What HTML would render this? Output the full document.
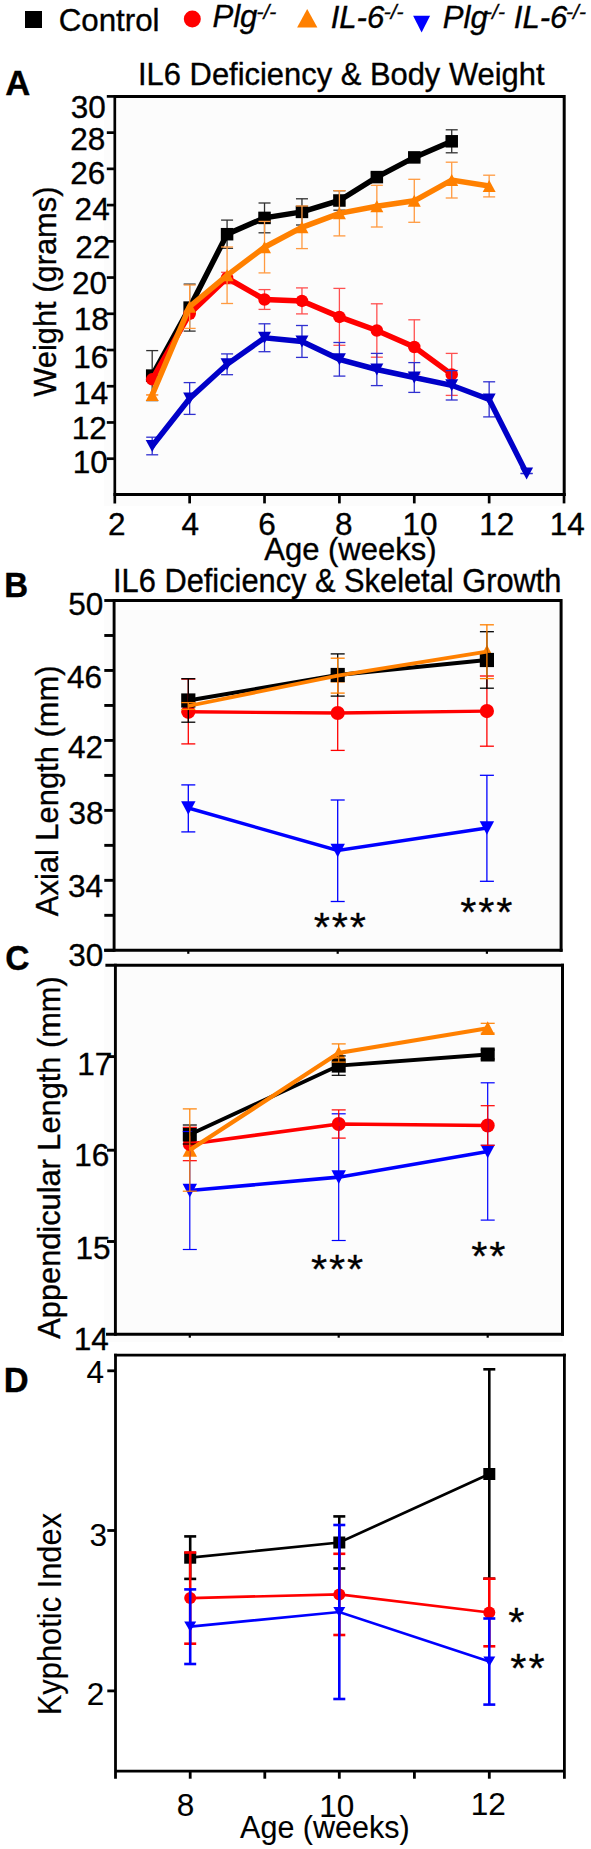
<!DOCTYPE html><html><head><meta charset="utf-8"><style>html,body{margin:0;padding:0;background:#fff;width:591px;height:1849px;overflow:hidden}text{font-family:"Liberation Sans",sans-serif}</style></head><body><svg width="591" height="1849" viewBox="0 0 591 1849" style="display:block;font-family:'Liberation Sans',sans-serif">
<defs><pattern id="dots" width="3" height="3" patternUnits="userSpaceOnUse"><rect width="3" height="3" fill="#fff"/><rect x="0" y="0" width="1" height="1" fill="#f1f1f1"/><rect x="2" y="1" width="1" height="1" fill="#f1f1f1"/><rect x="1" y="2" width="1" height="1" fill="#f1f1f1"/></pattern></defs>
<rect width="591" height="1849" fill="#fff"/>
<rect x="25" y="11" width="17" height="17" fill="#000"/>
<text transform="translate(58.63,30.90) scale(1,1.0220)" font-size="31.31" font-weight="normal" font-style="normal" fill="#000" stroke="#000" stroke-width="0.35">Control</text>
<circle cx="192.3" cy="19.1" r="8.5" fill="#ff0000"/>
<text transform="translate(212.47,26.80)" font-size="31.10" font-weight="normal" font-style="italic" fill="#000" stroke="#000" stroke-width="0.35">Plg</text>
<text transform="translate(256.50,18.60) scale(1,0.9524)" font-size="21.00" font-weight="normal" font-style="italic" fill="#000" stroke="#000" stroke-width="0.35">-/-</text>
<polygon points="307.2,8.9 317.4,27.4 297.1,27.4" fill="#ff8000"/>
<text transform="translate(330.66,27.90)" font-size="31.10" font-weight="normal" font-style="italic" fill="#000" stroke="#000" stroke-width="0.35">IL-6</text>
<text transform="translate(383.70,19.00) scale(1,0.9524)" font-size="21.00" font-weight="normal" font-style="italic" fill="#000" stroke="#000" stroke-width="0.35">-/-</text>
<polygon points="413.1,15.7 430.1,15.7 421.6,32.5" fill="#0000ff"/>
<text transform="translate(442.87,28.30)" font-size="31.10" font-weight="normal" font-style="italic" fill="#000" stroke="#000" stroke-width="0.35">Plg</text>
<text transform="translate(485.10,19.30) scale(1,0.9524)" font-size="21.00" font-weight="normal" font-style="italic" fill="#000" stroke="#000" stroke-width="0.35">-/-</text>
<text transform="translate(513.76,28.30)" font-size="31.10" font-weight="normal" font-style="italic" fill="#000" stroke="#000" stroke-width="0.35">IL-6</text>
<text transform="translate(566.10,19.30) scale(1,0.9524)" font-size="21.00" font-weight="normal" font-style="italic" fill="#000" stroke="#000" stroke-width="0.35">-/-</text>
<text transform="translate(5.23,94.90) scale(1,1.0086)" font-size="34.70" font-weight="bold" font-style="normal" fill="#000" stroke="#000" stroke-width="0.35">A</text>
<text transform="translate(4.17,596.80) scale(1,1.0424)" font-size="33.00" font-weight="bold" font-style="normal" fill="#000" stroke="#000" stroke-width="0.35">B</text>
<text transform="translate(5.26,970.00) scale(1,1.0208)" font-size="33.60" font-weight="bold" font-style="normal" fill="#000" stroke="#000" stroke-width="0.35">C</text>
<text transform="translate(3.87,1391.50) scale(1,0.9971)" font-size="34.50" font-weight="bold" font-style="normal" fill="#000" stroke="#000" stroke-width="0.35">D</text>
<rect x="104" y="96.4" width="460.20000000000005" height="409.6" fill="#fcfcfc"/>
<text transform="translate(138.04,85.20) scale(1,1.0416)" font-size="30.92" font-weight="normal" font-style="normal" fill="#000" stroke="#000" stroke-width="0.35">IL6 Deficiency &amp; Body Weight</text>
<line x1="152.20" y1="350.60" x2="152.20" y2="400.60" stroke="#303030" stroke-width="1.3" stroke-linecap="butt"/>
<line x1="146.20" y1="350.60" x2="158.20" y2="350.60" stroke="#303030" stroke-width="1.3" stroke-linecap="butt"/>
<line x1="146.20" y1="400.60" x2="158.20" y2="400.60" stroke="#303030" stroke-width="1.3" stroke-linecap="butt"/>
<line x1="189.64" y1="284.10" x2="189.64" y2="331.10" stroke="#303030" stroke-width="1.3" stroke-linecap="butt"/>
<line x1="183.64" y1="284.10" x2="195.64" y2="284.10" stroke="#303030" stroke-width="1.3" stroke-linecap="butt"/>
<line x1="183.64" y1="331.10" x2="195.64" y2="331.10" stroke="#303030" stroke-width="1.3" stroke-linecap="butt"/>
<line x1="227.08" y1="220.10" x2="227.08" y2="248.30" stroke="#303030" stroke-width="1.3" stroke-linecap="butt"/>
<line x1="221.08" y1="220.10" x2="233.08" y2="220.10" stroke="#303030" stroke-width="1.3" stroke-linecap="butt"/>
<line x1="221.08" y1="248.30" x2="233.08" y2="248.30" stroke="#303030" stroke-width="1.3" stroke-linecap="butt"/>
<line x1="264.52" y1="203.00" x2="264.52" y2="232.80" stroke="#303030" stroke-width="1.3" stroke-linecap="butt"/>
<line x1="258.52" y1="203.00" x2="270.52" y2="203.00" stroke="#303030" stroke-width="1.3" stroke-linecap="butt"/>
<line x1="258.52" y1="232.80" x2="270.52" y2="232.80" stroke="#303030" stroke-width="1.3" stroke-linecap="butt"/>
<line x1="301.96" y1="198.80" x2="301.96" y2="225.00" stroke="#303030" stroke-width="1.3" stroke-linecap="butt"/>
<line x1="295.96" y1="198.80" x2="307.96" y2="198.80" stroke="#303030" stroke-width="1.3" stroke-linecap="butt"/>
<line x1="295.96" y1="225.00" x2="307.96" y2="225.00" stroke="#303030" stroke-width="1.3" stroke-linecap="butt"/>
<line x1="339.40" y1="190.70" x2="339.40" y2="210.20" stroke="#303030" stroke-width="1.3" stroke-linecap="butt"/>
<line x1="333.40" y1="190.70" x2="345.40" y2="190.70" stroke="#303030" stroke-width="1.3" stroke-linecap="butt"/>
<line x1="333.40" y1="210.20" x2="345.40" y2="210.20" stroke="#303030" stroke-width="1.3" stroke-linecap="butt"/>
<line x1="376.84" y1="173.00" x2="376.84" y2="181.00" stroke="#303030" stroke-width="1.3" stroke-linecap="butt"/>
<line x1="370.84" y1="173.00" x2="382.84" y2="173.00" stroke="#303030" stroke-width="1.3" stroke-linecap="butt"/>
<line x1="370.84" y1="181.00" x2="382.84" y2="181.00" stroke="#303030" stroke-width="1.3" stroke-linecap="butt"/>
<line x1="414.28" y1="153.00" x2="414.28" y2="161.00" stroke="#303030" stroke-width="1.3" stroke-linecap="butt"/>
<line x1="408.28" y1="153.00" x2="420.28" y2="153.00" stroke="#303030" stroke-width="1.3" stroke-linecap="butt"/>
<line x1="408.28" y1="161.00" x2="420.28" y2="161.00" stroke="#303030" stroke-width="1.3" stroke-linecap="butt"/>
<line x1="451.72" y1="129.80" x2="451.72" y2="152.80" stroke="#303030" stroke-width="1.3" stroke-linecap="butt"/>
<line x1="445.72" y1="129.80" x2="457.72" y2="129.80" stroke="#303030" stroke-width="1.3" stroke-linecap="butt"/>
<line x1="445.72" y1="152.80" x2="457.72" y2="152.80" stroke="#303030" stroke-width="1.3" stroke-linecap="butt"/>
<polyline points="152.20,375.60 189.64,307.60 227.08,234.20 264.52,217.90 301.96,211.90 339.40,200.50 376.84,177.10 414.28,157.40 451.72,141.30" fill="none" stroke="#000000" stroke-width="5.5" stroke-linejoin="miter" stroke-miterlimit="3"/>
<rect x="145.95" y="369.35" width="12.50" height="12.50" fill="#000000"/>
<rect x="183.39" y="301.35" width="12.50" height="12.50" fill="#000000"/>
<rect x="220.83" y="227.95" width="12.50" height="12.50" fill="#000000"/>
<rect x="258.27" y="211.65" width="12.50" height="12.50" fill="#000000"/>
<rect x="295.71" y="205.65" width="12.50" height="12.50" fill="#000000"/>
<rect x="333.15" y="194.25" width="12.50" height="12.50" fill="#000000"/>
<rect x="370.59" y="170.85" width="12.50" height="12.50" fill="#000000"/>
<rect x="408.03" y="151.15" width="12.50" height="12.50" fill="#000000"/>
<rect x="445.47" y="135.05" width="12.50" height="12.50" fill="#000000"/>
<line x1="152.20" y1="379.30" x2="152.20" y2="379.30" stroke="#ff5050" stroke-width="1.3" stroke-linecap="butt"/>
<line x1="146.20" y1="379.30" x2="158.20" y2="379.30" stroke="#ff5050" stroke-width="1.3" stroke-linecap="butt"/>
<line x1="146.20" y1="379.30" x2="158.20" y2="379.30" stroke="#ff5050" stroke-width="1.3" stroke-linecap="butt"/>
<line x1="189.64" y1="313.80" x2="189.64" y2="313.80" stroke="#ff5050" stroke-width="1.3" stroke-linecap="butt"/>
<line x1="183.64" y1="313.80" x2="195.64" y2="313.80" stroke="#ff5050" stroke-width="1.3" stroke-linecap="butt"/>
<line x1="183.64" y1="313.80" x2="195.64" y2="313.80" stroke="#ff5050" stroke-width="1.3" stroke-linecap="butt"/>
<line x1="227.08" y1="272.30" x2="227.08" y2="283.70" stroke="#ff5050" stroke-width="1.3" stroke-linecap="butt"/>
<line x1="221.08" y1="272.30" x2="233.08" y2="272.30" stroke="#ff5050" stroke-width="1.3" stroke-linecap="butt"/>
<line x1="221.08" y1="283.70" x2="233.08" y2="283.70" stroke="#ff5050" stroke-width="1.3" stroke-linecap="butt"/>
<line x1="264.52" y1="289.60" x2="264.52" y2="309.40" stroke="#ff5050" stroke-width="1.3" stroke-linecap="butt"/>
<line x1="258.52" y1="289.60" x2="270.52" y2="289.60" stroke="#ff5050" stroke-width="1.3" stroke-linecap="butt"/>
<line x1="258.52" y1="309.40" x2="270.52" y2="309.40" stroke="#ff5050" stroke-width="1.3" stroke-linecap="butt"/>
<line x1="301.96" y1="287.90" x2="301.96" y2="313.90" stroke="#ff5050" stroke-width="1.3" stroke-linecap="butt"/>
<line x1="295.96" y1="287.90" x2="307.96" y2="287.90" stroke="#ff5050" stroke-width="1.3" stroke-linecap="butt"/>
<line x1="295.96" y1="313.90" x2="307.96" y2="313.90" stroke="#ff5050" stroke-width="1.3" stroke-linecap="butt"/>
<line x1="339.40" y1="288.40" x2="339.40" y2="345.30" stroke="#ff5050" stroke-width="1.3" stroke-linecap="butt"/>
<line x1="333.40" y1="288.40" x2="345.40" y2="288.40" stroke="#ff5050" stroke-width="1.3" stroke-linecap="butt"/>
<line x1="333.40" y1="345.30" x2="345.40" y2="345.30" stroke="#ff5050" stroke-width="1.3" stroke-linecap="butt"/>
<line x1="376.84" y1="303.80" x2="376.84" y2="357.20" stroke="#ff5050" stroke-width="1.3" stroke-linecap="butt"/>
<line x1="370.84" y1="303.80" x2="382.84" y2="303.80" stroke="#ff5050" stroke-width="1.3" stroke-linecap="butt"/>
<line x1="370.84" y1="357.20" x2="382.84" y2="357.20" stroke="#ff5050" stroke-width="1.3" stroke-linecap="butt"/>
<line x1="414.28" y1="319.80" x2="414.28" y2="374.20" stroke="#ff5050" stroke-width="1.3" stroke-linecap="butt"/>
<line x1="408.28" y1="319.80" x2="420.28" y2="319.80" stroke="#ff5050" stroke-width="1.3" stroke-linecap="butt"/>
<line x1="408.28" y1="374.20" x2="420.28" y2="374.20" stroke="#ff5050" stroke-width="1.3" stroke-linecap="butt"/>
<line x1="451.72" y1="353.40" x2="451.72" y2="395.40" stroke="#ff5050" stroke-width="1.3" stroke-linecap="butt"/>
<line x1="445.72" y1="353.40" x2="457.72" y2="353.40" stroke="#ff5050" stroke-width="1.3" stroke-linecap="butt"/>
<line x1="445.72" y1="395.40" x2="457.72" y2="395.40" stroke="#ff5050" stroke-width="1.3" stroke-linecap="butt"/>
<polyline points="152.20,379.30 189.64,313.80 227.08,278.00 264.52,299.50 301.96,300.90 339.40,316.90 376.84,330.50 414.28,347.00 451.72,374.40" fill="none" stroke="#ff0000" stroke-width="5.5" stroke-linejoin="miter" stroke-miterlimit="3"/>
<circle cx="152.20" cy="379.30" r="6.25" fill="#ff0000"/>
<circle cx="189.64" cy="313.80" r="6.25" fill="#ff0000"/>
<circle cx="227.08" cy="278.00" r="6.25" fill="#ff0000"/>
<circle cx="264.52" cy="299.50" r="6.25" fill="#ff0000"/>
<circle cx="301.96" cy="300.90" r="6.25" fill="#ff0000"/>
<circle cx="339.40" cy="316.90" r="6.25" fill="#ff0000"/>
<circle cx="376.84" cy="330.50" r="6.25" fill="#ff0000"/>
<circle cx="414.28" cy="347.00" r="6.25" fill="#ff0000"/>
<circle cx="451.72" cy="374.40" r="6.25" fill="#ff0000"/>
<line x1="152.20" y1="394.90" x2="152.20" y2="394.90" stroke="#ff9a40" stroke-width="1.3" stroke-linecap="butt"/>
<line x1="146.20" y1="394.90" x2="158.20" y2="394.90" stroke="#ff9a40" stroke-width="1.3" stroke-linecap="butt"/>
<line x1="146.20" y1="394.90" x2="158.20" y2="394.90" stroke="#ff9a40" stroke-width="1.3" stroke-linecap="butt"/>
<line x1="189.64" y1="285.00" x2="189.64" y2="328.40" stroke="#ff9a40" stroke-width="1.3" stroke-linecap="butt"/>
<line x1="183.64" y1="285.00" x2="195.64" y2="285.00" stroke="#ff9a40" stroke-width="1.3" stroke-linecap="butt"/>
<line x1="183.64" y1="328.40" x2="195.64" y2="328.40" stroke="#ff9a40" stroke-width="1.3" stroke-linecap="butt"/>
<line x1="227.08" y1="247.00" x2="227.08" y2="303.50" stroke="#ff9a40" stroke-width="1.3" stroke-linecap="butt"/>
<line x1="221.08" y1="247.00" x2="233.08" y2="247.00" stroke="#ff9a40" stroke-width="1.3" stroke-linecap="butt"/>
<line x1="221.08" y1="303.50" x2="233.08" y2="303.50" stroke="#ff9a40" stroke-width="1.3" stroke-linecap="butt"/>
<line x1="264.52" y1="221.40" x2="264.52" y2="272.90" stroke="#ff9a40" stroke-width="1.3" stroke-linecap="butt"/>
<line x1="258.52" y1="221.40" x2="270.52" y2="221.40" stroke="#ff9a40" stroke-width="1.3" stroke-linecap="butt"/>
<line x1="258.52" y1="272.90" x2="270.52" y2="272.90" stroke="#ff9a40" stroke-width="1.3" stroke-linecap="butt"/>
<line x1="301.96" y1="206.00" x2="301.96" y2="248.60" stroke="#ff9a40" stroke-width="1.3" stroke-linecap="butt"/>
<line x1="295.96" y1="206.00" x2="307.96" y2="206.00" stroke="#ff9a40" stroke-width="1.3" stroke-linecap="butt"/>
<line x1="295.96" y1="248.60" x2="307.96" y2="248.60" stroke="#ff9a40" stroke-width="1.3" stroke-linecap="butt"/>
<line x1="339.40" y1="190.70" x2="339.40" y2="235.90" stroke="#ff9a40" stroke-width="1.3" stroke-linecap="butt"/>
<line x1="333.40" y1="190.70" x2="345.40" y2="190.70" stroke="#ff9a40" stroke-width="1.3" stroke-linecap="butt"/>
<line x1="333.40" y1="235.90" x2="345.40" y2="235.90" stroke="#ff9a40" stroke-width="1.3" stroke-linecap="butt"/>
<line x1="376.84" y1="185.30" x2="376.84" y2="227.00" stroke="#ff9a40" stroke-width="1.3" stroke-linecap="butt"/>
<line x1="370.84" y1="185.30" x2="382.84" y2="185.30" stroke="#ff9a40" stroke-width="1.3" stroke-linecap="butt"/>
<line x1="370.84" y1="227.00" x2="382.84" y2="227.00" stroke="#ff9a40" stroke-width="1.3" stroke-linecap="butt"/>
<line x1="414.28" y1="179.30" x2="414.28" y2="222.30" stroke="#ff9a40" stroke-width="1.3" stroke-linecap="butt"/>
<line x1="408.28" y1="179.30" x2="420.28" y2="179.30" stroke="#ff9a40" stroke-width="1.3" stroke-linecap="butt"/>
<line x1="408.28" y1="222.30" x2="420.28" y2="222.30" stroke="#ff9a40" stroke-width="1.3" stroke-linecap="butt"/>
<line x1="451.72" y1="162.20" x2="451.72" y2="198.00" stroke="#ff9a40" stroke-width="1.3" stroke-linecap="butt"/>
<line x1="445.72" y1="162.20" x2="457.72" y2="162.20" stroke="#ff9a40" stroke-width="1.3" stroke-linecap="butt"/>
<line x1="445.72" y1="198.00" x2="457.72" y2="198.00" stroke="#ff9a40" stroke-width="1.3" stroke-linecap="butt"/>
<line x1="489.16" y1="175.20" x2="489.16" y2="196.90" stroke="#ff9a40" stroke-width="1.3" stroke-linecap="butt"/>
<line x1="483.16" y1="175.20" x2="495.16" y2="175.20" stroke="#ff9a40" stroke-width="1.3" stroke-linecap="butt"/>
<line x1="483.16" y1="196.90" x2="495.16" y2="196.90" stroke="#ff9a40" stroke-width="1.3" stroke-linecap="butt"/>
<polyline points="152.20,394.90 189.64,306.70 227.08,275.30 264.52,247.20 301.96,227.30 339.40,213.30 376.84,206.20 414.28,200.80 451.72,180.10 489.16,186.00" fill="none" stroke="#ff8000" stroke-width="5.5" stroke-linejoin="miter" stroke-miterlimit="3"/>
<polygon points="152.20,388.92 158.70,400.88 145.70,400.88" fill="#ff8000"/>
<polygon points="189.64,300.72 196.14,312.68 183.14,312.68" fill="#ff8000"/>
<polygon points="227.08,269.32 233.58,281.28 220.58,281.28" fill="#ff8000"/>
<polygon points="264.52,241.22 271.02,253.18 258.02,253.18" fill="#ff8000"/>
<polygon points="301.96,221.32 308.46,233.28 295.46,233.28" fill="#ff8000"/>
<polygon points="339.40,207.32 345.90,219.28 332.90,219.28" fill="#ff8000"/>
<polygon points="376.84,200.22 383.34,212.18 370.34,212.18" fill="#ff8000"/>
<polygon points="414.28,194.82 420.78,206.78 407.78,206.78" fill="#ff8000"/>
<polygon points="451.72,174.12 458.22,186.08 445.22,186.08" fill="#ff8000"/>
<polygon points="489.16,180.02 495.66,191.98 482.66,191.98" fill="#ff8000"/>
<line x1="152.20" y1="437.20" x2="152.20" y2="454.80" stroke="#3030d0" stroke-width="1.3" stroke-linecap="butt"/>
<line x1="146.20" y1="437.20" x2="158.20" y2="437.20" stroke="#3030d0" stroke-width="1.3" stroke-linecap="butt"/>
<line x1="146.20" y1="454.80" x2="158.20" y2="454.80" stroke="#3030d0" stroke-width="1.3" stroke-linecap="butt"/>
<line x1="189.64" y1="382.60" x2="189.64" y2="414.40" stroke="#3030d0" stroke-width="1.3" stroke-linecap="butt"/>
<line x1="183.64" y1="382.60" x2="195.64" y2="382.60" stroke="#3030d0" stroke-width="1.3" stroke-linecap="butt"/>
<line x1="183.64" y1="414.40" x2="195.64" y2="414.40" stroke="#3030d0" stroke-width="1.3" stroke-linecap="butt"/>
<line x1="227.08" y1="353.90" x2="227.08" y2="374.70" stroke="#3030d0" stroke-width="1.3" stroke-linecap="butt"/>
<line x1="221.08" y1="353.90" x2="233.08" y2="353.90" stroke="#3030d0" stroke-width="1.3" stroke-linecap="butt"/>
<line x1="221.08" y1="374.70" x2="233.08" y2="374.70" stroke="#3030d0" stroke-width="1.3" stroke-linecap="butt"/>
<line x1="264.52" y1="323.80" x2="264.52" y2="351.70" stroke="#3030d0" stroke-width="1.3" stroke-linecap="butt"/>
<line x1="258.52" y1="323.80" x2="270.52" y2="323.80" stroke="#3030d0" stroke-width="1.3" stroke-linecap="butt"/>
<line x1="258.52" y1="351.70" x2="270.52" y2="351.70" stroke="#3030d0" stroke-width="1.3" stroke-linecap="butt"/>
<line x1="301.96" y1="325.50" x2="301.96" y2="357.40" stroke="#3030d0" stroke-width="1.3" stroke-linecap="butt"/>
<line x1="295.96" y1="325.50" x2="307.96" y2="325.50" stroke="#3030d0" stroke-width="1.3" stroke-linecap="butt"/>
<line x1="295.96" y1="357.40" x2="307.96" y2="357.40" stroke="#3030d0" stroke-width="1.3" stroke-linecap="butt"/>
<line x1="339.40" y1="342.50" x2="339.40" y2="376.10" stroke="#3030d0" stroke-width="1.3" stroke-linecap="butt"/>
<line x1="333.40" y1="342.50" x2="345.40" y2="342.50" stroke="#3030d0" stroke-width="1.3" stroke-linecap="butt"/>
<line x1="333.40" y1="376.10" x2="345.40" y2="376.10" stroke="#3030d0" stroke-width="1.3" stroke-linecap="butt"/>
<line x1="376.84" y1="353.40" x2="376.84" y2="385.60" stroke="#3030d0" stroke-width="1.3" stroke-linecap="butt"/>
<line x1="370.84" y1="353.40" x2="382.84" y2="353.40" stroke="#3030d0" stroke-width="1.3" stroke-linecap="butt"/>
<line x1="370.84" y1="385.60" x2="382.84" y2="385.60" stroke="#3030d0" stroke-width="1.3" stroke-linecap="butt"/>
<line x1="414.28" y1="362.60" x2="414.28" y2="392.40" stroke="#3030d0" stroke-width="1.3" stroke-linecap="butt"/>
<line x1="408.28" y1="362.60" x2="420.28" y2="362.60" stroke="#3030d0" stroke-width="1.3" stroke-linecap="butt"/>
<line x1="408.28" y1="392.40" x2="420.28" y2="392.40" stroke="#3030d0" stroke-width="1.3" stroke-linecap="butt"/>
<line x1="451.72" y1="370.60" x2="451.72" y2="400.00" stroke="#3030d0" stroke-width="1.3" stroke-linecap="butt"/>
<line x1="445.72" y1="370.60" x2="457.72" y2="370.60" stroke="#3030d0" stroke-width="1.3" stroke-linecap="butt"/>
<line x1="445.72" y1="400.00" x2="457.72" y2="400.00" stroke="#3030d0" stroke-width="1.3" stroke-linecap="butt"/>
<line x1="489.16" y1="381.80" x2="489.16" y2="416.90" stroke="#3030d0" stroke-width="1.3" stroke-linecap="butt"/>
<line x1="483.16" y1="381.80" x2="495.16" y2="381.80" stroke="#3030d0" stroke-width="1.3" stroke-linecap="butt"/>
<line x1="483.16" y1="416.90" x2="495.16" y2="416.90" stroke="#3030d0" stroke-width="1.3" stroke-linecap="butt"/>
<line x1="526.60" y1="473.50" x2="526.60" y2="473.50" stroke="#3030d0" stroke-width="1.3" stroke-linecap="butt"/>
<line x1="520.60" y1="473.50" x2="532.60" y2="473.50" stroke="#3030d0" stroke-width="1.3" stroke-linecap="butt"/>
<line x1="520.60" y1="473.50" x2="532.60" y2="473.50" stroke="#3030d0" stroke-width="1.3" stroke-linecap="butt"/>
<polyline points="152.20,446.00 189.64,398.50 227.08,364.30 264.52,337.80 301.96,341.50 339.40,359.30 376.84,369.50 414.28,377.50 451.72,385.30 489.16,399.40 526.60,473.50" fill="none" stroke="#0000c8" stroke-width="5.5" stroke-linejoin="miter" stroke-miterlimit="3"/>
<polygon points="145.70,440.02 158.70,440.02 152.20,451.98" fill="#0000c8"/>
<polygon points="183.14,392.52 196.14,392.52 189.64,404.48" fill="#0000c8"/>
<polygon points="220.58,358.32 233.58,358.32 227.08,370.28" fill="#0000c8"/>
<polygon points="258.02,331.82 271.02,331.82 264.52,343.78" fill="#0000c8"/>
<polygon points="295.46,335.52 308.46,335.52 301.96,347.48" fill="#0000c8"/>
<polygon points="332.90,353.32 345.90,353.32 339.40,365.28" fill="#0000c8"/>
<polygon points="370.34,363.52 383.34,363.52 376.84,375.48" fill="#0000c8"/>
<polygon points="407.78,371.52 420.78,371.52 414.28,383.48" fill="#0000c8"/>
<polygon points="445.22,379.32 458.22,379.32 451.72,391.28" fill="#0000c8"/>
<polygon points="482.66,393.42 495.66,393.42 489.16,405.38" fill="#0000c8"/>
<polygon points="520.10,467.52 533.10,467.52 526.60,479.48" fill="#0000c8"/>
<line x1="114.80" y1="96.40" x2="564.20" y2="96.40" stroke="#000" stroke-width="3" stroke-linecap="butt"/>
<line x1="564.20" y1="94.90" x2="564.20" y2="495.90" stroke="#000" stroke-width="3" stroke-linecap="butt"/>
<line x1="114.80" y1="94.90" x2="114.80" y2="503.40" stroke="#000" stroke-width="2.7" stroke-linecap="butt"/>
<line x1="113.45" y1="494.40" x2="565.70" y2="494.40" stroke="#000" stroke-width="3" stroke-linecap="butt"/>
<line x1="106.80" y1="458.70" x2="114.80" y2="458.70" stroke="#000" stroke-width="2.7" stroke-linecap="butt"/>
<line x1="106.80" y1="422.47" x2="114.80" y2="422.47" stroke="#000" stroke-width="2.7" stroke-linecap="butt"/>
<line x1="106.80" y1="386.24" x2="114.80" y2="386.24" stroke="#000" stroke-width="2.7" stroke-linecap="butt"/>
<line x1="106.80" y1="350.01" x2="114.80" y2="350.01" stroke="#000" stroke-width="2.7" stroke-linecap="butt"/>
<line x1="106.80" y1="313.78" x2="114.80" y2="313.78" stroke="#000" stroke-width="2.7" stroke-linecap="butt"/>
<line x1="106.80" y1="277.55" x2="114.80" y2="277.55" stroke="#000" stroke-width="2.7" stroke-linecap="butt"/>
<line x1="106.80" y1="241.32" x2="114.80" y2="241.32" stroke="#000" stroke-width="2.7" stroke-linecap="butt"/>
<line x1="106.80" y1="205.09" x2="114.80" y2="205.09" stroke="#000" stroke-width="2.7" stroke-linecap="butt"/>
<line x1="106.80" y1="168.86" x2="114.80" y2="168.86" stroke="#000" stroke-width="2.7" stroke-linecap="butt"/>
<line x1="106.80" y1="132.63" x2="114.80" y2="132.63" stroke="#000" stroke-width="2.7" stroke-linecap="butt"/>
<line x1="106.80" y1="96.40" x2="114.80" y2="96.40" stroke="#000" stroke-width="2.7" stroke-linecap="butt"/>
<line x1="189.64" y1="494.40" x2="189.64" y2="503.40" stroke="#000" stroke-width="2.7" stroke-linecap="butt"/>
<line x1="264.52" y1="494.40" x2="264.52" y2="503.40" stroke="#000" stroke-width="2.7" stroke-linecap="butt"/>
<line x1="339.40" y1="494.40" x2="339.40" y2="503.40" stroke="#000" stroke-width="2.7" stroke-linecap="butt"/>
<line x1="414.28" y1="494.40" x2="414.28" y2="503.40" stroke="#000" stroke-width="2.7" stroke-linecap="butt"/>
<line x1="489.16" y1="494.40" x2="489.16" y2="503.40" stroke="#000" stroke-width="2.7" stroke-linecap="butt"/>
<line x1="564.04" y1="494.40" x2="564.04" y2="503.40" stroke="#000" stroke-width="2.7" stroke-linecap="butt"/>
<text transform="translate(70.72,117.59)" font-size="31.50" font-weight="normal" font-style="normal" fill="#000" stroke="#000" stroke-width="0.35">30</text>
<text transform="translate(70.33,149.69)" font-size="31.50" font-weight="normal" font-style="normal" fill="#000" stroke="#000" stroke-width="0.35">28</text>
<text transform="translate(70.33,183.69)" font-size="31.50" font-weight="normal" font-style="normal" fill="#000" stroke="#000" stroke-width="0.35">26</text>
<text transform="translate(74.62,219.70)" font-size="31.50" font-weight="normal" font-style="normal" fill="#000" stroke="#000" stroke-width="0.35">24</text>
<text transform="translate(75.22,257.60)" font-size="31.50" font-weight="normal" font-style="normal" fill="#000" stroke="#000" stroke-width="0.35">22</text>
<text transform="translate(72.02,294.08)" font-size="31.50" font-weight="normal" font-style="normal" fill="#000" stroke="#000" stroke-width="0.35">20</text>
<text transform="translate(73.84,329.69)" font-size="31.50" font-weight="normal" font-style="normal" fill="#000" stroke="#000" stroke-width="0.35">18</text>
<text transform="translate(73.34,368.08)" font-size="31.50" font-weight="normal" font-style="normal" fill="#000" stroke="#000" stroke-width="0.35">16</text>
<text transform="translate(73.34,404.10)" font-size="31.50" font-weight="normal" font-style="normal" fill="#000" stroke="#000" stroke-width="0.35">14</text>
<text transform="translate(71.74,439.20)" font-size="31.50" font-weight="normal" font-style="normal" fill="#000" stroke="#000" stroke-width="0.35">12</text>
<text transform="translate(72.74,473.49)" font-size="31.50" font-weight="normal" font-style="normal" fill="#000" stroke="#000" stroke-width="0.35">10</text>
<text transform="translate(108.12,535.30)" font-size="31.50" font-weight="normal" font-style="normal" fill="#000" stroke="#000" stroke-width="0.35">2</text>
<text transform="translate(181.49,535.30)" font-size="31.50" font-weight="normal" font-style="normal" fill="#000" stroke="#000" stroke-width="0.35">4</text>
<text transform="translate(258.32,535.30)" font-size="31.50" font-weight="normal" font-style="normal" fill="#000" stroke="#000" stroke-width="0.35">6</text>
<text transform="translate(335.06,535.30)" font-size="31.50" font-weight="normal" font-style="normal" fill="#000" stroke="#000" stroke-width="0.35">8</text>
<text transform="translate(402.54,535.30)" font-size="31.50" font-weight="normal" font-style="normal" fill="#000" stroke="#000" stroke-width="0.35">10</text>
<text transform="translate(479.14,535.30)" font-size="31.50" font-weight="normal" font-style="normal" fill="#000" stroke="#000" stroke-width="0.35">12</text>
<text transform="translate(549.64,535.30)" font-size="31.50" font-weight="normal" font-style="normal" fill="#000" stroke="#000" stroke-width="0.35">14</text>
<text transform="translate(264.22,559.60) scale(1,0.9837)" font-size="31.01" font-weight="normal" font-style="normal" fill="#000" stroke="#000" stroke-width="0.35">Age (weeks)</text>
<text transform="translate(55.90,396.70) rotate(-90) scale(1,1.0366)" x="-0.15" font-size="30.87" fill="#000" stroke="#000" stroke-width="0.35">Weight (grams)</text>
<rect x="104" y="600.6" width="457.1" height="359.69999999999993" fill="#fcfcfc"/>
<text transform="translate(113.05,592.00) scale(1,1.0614)" font-size="30.81" font-weight="normal" font-style="normal" fill="#000" stroke="#000" stroke-width="0.35">IL6 Deficiency &amp; Skeletal Growth</text>
<polygon points="188.30,699.16 195.50,712.84 181.10,712.84" fill="#ff8000"/>
<polygon points="337.70,668.81 344.90,682.49 330.50,682.49" fill="#ff8000"/>
<polygon points="486.90,644.86 494.10,658.54 479.70,658.54" fill="#ff8000"/>
<circle cx="188.30" cy="711.80" r="7.10" fill="#ff0000"/>
<circle cx="337.70" cy="713.00" r="7.10" fill="#ff0000"/>
<circle cx="486.90" cy="711.10" r="7.10" fill="#ff0000"/>
<rect x="181.20" y="693.40" width="14.20" height="14.20" fill="#000000"/>
<rect x="330.60" y="667.90" width="14.20" height="14.20" fill="#000000"/>
<rect x="479.80" y="652.90" width="14.20" height="14.20" fill="#000000"/>
<polygon points="181.10,801.16 195.50,801.16 188.30,814.84" fill="#0000ff"/>
<polygon points="330.50,843.66 344.90,843.66 337.70,857.34" fill="#0000ff"/>
<polygon points="479.70,821.16 494.10,821.16 486.90,834.84" fill="#0000ff"/>
<line x1="188.30" y1="784.90" x2="188.30" y2="831.90" stroke="#0000ff" stroke-width="1.3" stroke-linecap="butt"/>
<line x1="181.30" y1="784.90" x2="195.30" y2="784.90" stroke="#0000ff" stroke-width="1.3" stroke-linecap="butt"/>
<line x1="181.30" y1="831.90" x2="195.30" y2="831.90" stroke="#0000ff" stroke-width="1.3" stroke-linecap="butt"/>
<line x1="337.70" y1="800.00" x2="337.70" y2="901.50" stroke="#0000ff" stroke-width="1.3" stroke-linecap="butt"/>
<line x1="330.70" y1="800.00" x2="344.70" y2="800.00" stroke="#0000ff" stroke-width="1.3" stroke-linecap="butt"/>
<line x1="330.70" y1="901.50" x2="344.70" y2="901.50" stroke="#0000ff" stroke-width="1.3" stroke-linecap="butt"/>
<line x1="486.90" y1="775.30" x2="486.90" y2="881.30" stroke="#0000ff" stroke-width="1.3" stroke-linecap="butt"/>
<line x1="479.90" y1="775.30" x2="493.90" y2="775.30" stroke="#0000ff" stroke-width="1.3" stroke-linecap="butt"/>
<line x1="479.90" y1="881.30" x2="493.90" y2="881.30" stroke="#0000ff" stroke-width="1.3" stroke-linecap="butt"/>
<polyline points="188.30,808.00 337.70,850.50 486.90,828.00" fill="none" stroke="#0000ff" stroke-width="3.4" stroke-linejoin="miter" stroke-miterlimit="3"/>
<line x1="188.30" y1="679.10" x2="188.30" y2="743.90" stroke="#ff0000" stroke-width="1.3" stroke-linecap="butt"/>
<line x1="181.30" y1="679.10" x2="195.30" y2="679.10" stroke="#ff0000" stroke-width="1.3" stroke-linecap="butt"/>
<line x1="181.30" y1="743.90" x2="195.30" y2="743.90" stroke="#ff0000" stroke-width="1.3" stroke-linecap="butt"/>
<line x1="337.70" y1="675.60" x2="337.70" y2="750.40" stroke="#ff0000" stroke-width="1.3" stroke-linecap="butt"/>
<line x1="330.70" y1="675.60" x2="344.70" y2="675.60" stroke="#ff0000" stroke-width="1.3" stroke-linecap="butt"/>
<line x1="330.70" y1="750.40" x2="344.70" y2="750.40" stroke="#ff0000" stroke-width="1.3" stroke-linecap="butt"/>
<line x1="486.90" y1="676.00" x2="486.90" y2="746.20" stroke="#ff0000" stroke-width="1.3" stroke-linecap="butt"/>
<line x1="479.90" y1="676.00" x2="493.90" y2="676.00" stroke="#ff0000" stroke-width="1.3" stroke-linecap="butt"/>
<line x1="479.90" y1="746.20" x2="493.90" y2="746.20" stroke="#ff0000" stroke-width="1.3" stroke-linecap="butt"/>
<polyline points="188.30,711.80 337.70,713.00 486.90,711.10" fill="none" stroke="#ff0000" stroke-width="3.4" stroke-linejoin="miter" stroke-miterlimit="3"/>
<line x1="188.30" y1="678.70" x2="188.30" y2="722.20" stroke="#000000" stroke-width="1.3" stroke-linecap="butt"/>
<line x1="181.30" y1="678.70" x2="195.30" y2="678.70" stroke="#000000" stroke-width="1.3" stroke-linecap="butt"/>
<line x1="181.30" y1="722.20" x2="195.30" y2="722.20" stroke="#000000" stroke-width="1.3" stroke-linecap="butt"/>
<line x1="337.70" y1="653.90" x2="337.70" y2="696.10" stroke="#000000" stroke-width="1.3" stroke-linecap="butt"/>
<line x1="330.70" y1="653.90" x2="344.70" y2="653.90" stroke="#000000" stroke-width="1.3" stroke-linecap="butt"/>
<line x1="330.70" y1="696.10" x2="344.70" y2="696.10" stroke="#000000" stroke-width="1.3" stroke-linecap="butt"/>
<line x1="486.90" y1="631.70" x2="486.90" y2="688.20" stroke="#000000" stroke-width="1.3" stroke-linecap="butt"/>
<line x1="479.90" y1="631.70" x2="493.90" y2="631.70" stroke="#000000" stroke-width="1.3" stroke-linecap="butt"/>
<line x1="479.90" y1="688.20" x2="493.90" y2="688.20" stroke="#000000" stroke-width="1.3" stroke-linecap="butt"/>
<polyline points="188.30,700.50 337.70,675.00 486.90,660.00" fill="none" stroke="#000000" stroke-width="4.0" stroke-linejoin="miter" stroke-miterlimit="3"/>
<line x1="188.30" y1="702.60" x2="188.30" y2="709.40" stroke="#ff8000" stroke-width="1.3" stroke-linecap="butt"/>
<line x1="181.30" y1="702.60" x2="195.30" y2="702.60" stroke="#ff8000" stroke-width="1.3" stroke-linecap="butt"/>
<line x1="181.30" y1="709.40" x2="195.30" y2="709.40" stroke="#ff8000" stroke-width="1.3" stroke-linecap="butt"/>
<line x1="337.70" y1="658.20" x2="337.70" y2="693.10" stroke="#ff8000" stroke-width="1.3" stroke-linecap="butt"/>
<line x1="330.70" y1="658.20" x2="344.70" y2="658.20" stroke="#ff8000" stroke-width="1.3" stroke-linecap="butt"/>
<line x1="330.70" y1="693.10" x2="344.70" y2="693.10" stroke="#ff8000" stroke-width="1.3" stroke-linecap="butt"/>
<line x1="486.90" y1="624.80" x2="486.90" y2="678.60" stroke="#ff8000" stroke-width="1.3" stroke-linecap="butt"/>
<line x1="479.90" y1="624.80" x2="493.90" y2="624.80" stroke="#ff8000" stroke-width="1.3" stroke-linecap="butt"/>
<line x1="479.90" y1="678.60" x2="493.90" y2="678.60" stroke="#ff8000" stroke-width="1.3" stroke-linecap="butt"/>
<polyline points="188.30,706.00 337.70,675.65 486.90,651.70" fill="none" stroke="#ff8000" stroke-width="3.8" stroke-linejoin="miter" stroke-miterlimit="3"/>
<line x1="114.10" y1="600.60" x2="561.10" y2="600.60" stroke="#000" stroke-width="3" stroke-linecap="butt"/>
<line x1="561.10" y1="599.10" x2="561.10" y2="951.80" stroke="#000" stroke-width="3" stroke-linecap="butt"/>
<line x1="114.10" y1="599.10" x2="114.10" y2="951.80" stroke="#000" stroke-width="2.9" stroke-linecap="butt"/>
<line x1="104.20" y1="950.30" x2="562.60" y2="950.30" stroke="#000" stroke-width="3" stroke-linecap="butt"/>
<line x1="104.30" y1="950.30" x2="114.10" y2="950.30" stroke="#000" stroke-width="2.9" stroke-linecap="butt"/>
<line x1="104.30" y1="915.32" x2="114.10" y2="915.32" stroke="#000" stroke-width="2.9" stroke-linecap="butt"/>
<line x1="104.30" y1="880.34" x2="114.10" y2="880.34" stroke="#000" stroke-width="2.9" stroke-linecap="butt"/>
<line x1="104.30" y1="845.36" x2="114.10" y2="845.36" stroke="#000" stroke-width="2.9" stroke-linecap="butt"/>
<line x1="104.30" y1="810.38" x2="114.10" y2="810.38" stroke="#000" stroke-width="2.9" stroke-linecap="butt"/>
<line x1="104.30" y1="775.40" x2="114.10" y2="775.40" stroke="#000" stroke-width="2.9" stroke-linecap="butt"/>
<line x1="104.30" y1="740.42" x2="114.10" y2="740.42" stroke="#000" stroke-width="2.9" stroke-linecap="butt"/>
<line x1="104.30" y1="705.44" x2="114.10" y2="705.44" stroke="#000" stroke-width="2.9" stroke-linecap="butt"/>
<line x1="104.30" y1="670.46" x2="114.10" y2="670.46" stroke="#000" stroke-width="2.9" stroke-linecap="butt"/>
<line x1="104.30" y1="635.48" x2="114.10" y2="635.48" stroke="#000" stroke-width="2.9" stroke-linecap="butt"/>
<line x1="104.30" y1="600.50" x2="114.10" y2="600.50" stroke="#000" stroke-width="2.9" stroke-linecap="butt"/>
<line x1="188.30" y1="950.30" x2="188.30" y2="953.80" stroke="#000" stroke-width="2.2" stroke-linecap="butt"/>
<line x1="337.70" y1="950.30" x2="337.70" y2="953.80" stroke="#000" stroke-width="2.2" stroke-linecap="butt"/>
<line x1="486.90" y1="950.30" x2="486.90" y2="953.80" stroke="#000" stroke-width="2.2" stroke-linecap="butt"/>
<text transform="translate(68.24,614.60)" font-size="31.50" font-weight="normal" font-style="normal" fill="#000" stroke="#000" stroke-width="0.35">50</text>
<text transform="translate(67.09,688.10)" font-size="31.50" font-weight="normal" font-style="normal" fill="#000" stroke="#000" stroke-width="0.35">46</text>
<text transform="translate(67.89,757.60)" font-size="31.50" font-weight="normal" font-style="normal" fill="#000" stroke="#000" stroke-width="0.35">42</text>
<text transform="translate(68.52,824.00)" font-size="31.50" font-weight="normal" font-style="normal" fill="#000" stroke="#000" stroke-width="0.35">38</text>
<text transform="translate(68.02,897.30)" font-size="31.50" font-weight="normal" font-style="normal" fill="#000" stroke="#000" stroke-width="0.35">34</text>
<text transform="translate(68.32,965.70)" font-size="31.50" font-weight="normal" font-style="normal" fill="#000" stroke="#000" stroke-width="0.35">30</text>
<text transform="translate(313.77,941.33)" font-size="41.5" letter-spacing="1.9" fill="#000" stroke="#000" stroke-width="0.3" stroke-linejoin="round">***</text>
<text transform="translate(460.27,925.73)" font-size="41.5" letter-spacing="1.9" fill="#000" stroke="#000" stroke-width="0.3" stroke-linejoin="round">***</text>
<text transform="translate(58.00,916.10) rotate(-90) scale(1,1.0419)" x="-0.08" font-size="30.90" fill="#000" stroke="#000" stroke-width="0.35">Axial Length (mm)</text>
<rect x="104" y="965.3" width="458.5" height="376.9000000000001" fill="#fcfcfc"/>
<polygon points="189.80,1143.16 197.00,1156.84 182.60,1156.84" fill="#ff8000"/>
<polygon points="338.70,1046.16 345.90,1059.84 331.50,1059.84" fill="#ff8000"/>
<polygon points="487.70,1021.36 494.90,1035.04 480.50,1035.04" fill="#ff8000"/>
<circle cx="189.80" cy="1144.00" r="7.00" fill="#ff0000"/>
<circle cx="338.70" cy="1124.00" r="7.00" fill="#ff0000"/>
<circle cx="487.70" cy="1125.50" r="7.00" fill="#ff0000"/>
<rect x="182.80" y="1127.50" width="14.00" height="14.00" fill="#000000"/>
<rect x="331.70" y="1058.60" width="14.00" height="14.00" fill="#000000"/>
<rect x="480.70" y="1047.50" width="14.00" height="14.00" fill="#000000"/>
<polygon points="182.60,1183.66 197.00,1183.66 189.80,1197.34" fill="#0000ff"/>
<polygon points="331.50,1170.36 345.90,1170.36 338.70,1184.04" fill="#0000ff"/>
<polygon points="480.50,1144.66 494.90,1144.66 487.70,1158.34" fill="#0000ff"/>
<line x1="189.80" y1="1131.50" x2="189.80" y2="1249.50" stroke="#0000ff" stroke-width="1.2" stroke-linecap="butt"/>
<line x1="182.80" y1="1131.50" x2="196.80" y2="1131.50" stroke="#0000ff" stroke-width="1.2" stroke-linecap="butt"/>
<line x1="182.80" y1="1249.50" x2="196.80" y2="1249.50" stroke="#0000ff" stroke-width="1.2" stroke-linecap="butt"/>
<line x1="338.70" y1="1113.80" x2="338.70" y2="1240.50" stroke="#0000ff" stroke-width="1.2" stroke-linecap="butt"/>
<line x1="331.70" y1="1113.80" x2="345.70" y2="1113.80" stroke="#0000ff" stroke-width="1.2" stroke-linecap="butt"/>
<line x1="331.70" y1="1240.50" x2="345.70" y2="1240.50" stroke="#0000ff" stroke-width="1.2" stroke-linecap="butt"/>
<line x1="487.70" y1="1082.80" x2="487.70" y2="1220.10" stroke="#0000ff" stroke-width="1.2" stroke-linecap="butt"/>
<line x1="480.70" y1="1082.80" x2="494.70" y2="1082.80" stroke="#0000ff" stroke-width="1.2" stroke-linecap="butt"/>
<line x1="480.70" y1="1220.10" x2="494.70" y2="1220.10" stroke="#0000ff" stroke-width="1.2" stroke-linecap="butt"/>
<polyline points="189.80,1190.50 338.70,1177.20 487.70,1151.50" fill="none" stroke="#0000ff" stroke-width="3.7" stroke-linejoin="miter" stroke-miterlimit="3"/>
<line x1="189.80" y1="1127.30" x2="189.80" y2="1160.70" stroke="#ff0000" stroke-width="1.2" stroke-linecap="butt"/>
<line x1="182.80" y1="1127.30" x2="196.80" y2="1127.30" stroke="#ff0000" stroke-width="1.2" stroke-linecap="butt"/>
<line x1="182.80" y1="1160.70" x2="196.80" y2="1160.70" stroke="#ff0000" stroke-width="1.2" stroke-linecap="butt"/>
<line x1="338.70" y1="1109.90" x2="338.70" y2="1138.10" stroke="#ff0000" stroke-width="1.2" stroke-linecap="butt"/>
<line x1="331.70" y1="1109.90" x2="345.70" y2="1109.90" stroke="#ff0000" stroke-width="1.2" stroke-linecap="butt"/>
<line x1="331.70" y1="1138.10" x2="345.70" y2="1138.10" stroke="#ff0000" stroke-width="1.2" stroke-linecap="butt"/>
<line x1="487.70" y1="1105.70" x2="487.70" y2="1145.30" stroke="#ff0000" stroke-width="1.2" stroke-linecap="butt"/>
<line x1="480.70" y1="1105.70" x2="494.70" y2="1105.70" stroke="#ff0000" stroke-width="1.2" stroke-linecap="butt"/>
<line x1="480.70" y1="1145.30" x2="494.70" y2="1145.30" stroke="#ff0000" stroke-width="1.2" stroke-linecap="butt"/>
<polyline points="189.80,1144.00 338.70,1124.00 487.70,1125.50" fill="none" stroke="#ff0000" stroke-width="3.7" stroke-linejoin="miter" stroke-miterlimit="3"/>
<line x1="189.80" y1="1125.00" x2="189.80" y2="1144.00" stroke="#000000" stroke-width="1.2" stroke-linecap="butt"/>
<line x1="182.80" y1="1125.00" x2="196.80" y2="1125.00" stroke="#000000" stroke-width="1.2" stroke-linecap="butt"/>
<line x1="182.80" y1="1144.00" x2="196.80" y2="1144.00" stroke="#000000" stroke-width="1.2" stroke-linecap="butt"/>
<line x1="338.70" y1="1055.90" x2="338.70" y2="1075.30" stroke="#000000" stroke-width="1.2" stroke-linecap="butt"/>
<line x1="331.70" y1="1055.90" x2="345.70" y2="1055.90" stroke="#000000" stroke-width="1.2" stroke-linecap="butt"/>
<line x1="331.70" y1="1075.30" x2="345.70" y2="1075.30" stroke="#000000" stroke-width="1.2" stroke-linecap="butt"/>
<line x1="487.70" y1="1050.00" x2="487.70" y2="1059.00" stroke="#000000" stroke-width="1.2" stroke-linecap="butt"/>
<line x1="480.70" y1="1050.00" x2="494.70" y2="1050.00" stroke="#000000" stroke-width="1.2" stroke-linecap="butt"/>
<line x1="480.70" y1="1059.00" x2="494.70" y2="1059.00" stroke="#000000" stroke-width="1.2" stroke-linecap="butt"/>
<polyline points="189.80,1134.50 338.70,1065.60 487.70,1054.50" fill="none" stroke="#000000" stroke-width="3.8" stroke-linejoin="miter" stroke-miterlimit="3"/>
<line x1="189.80" y1="1108.90" x2="189.80" y2="1191.20" stroke="#ff8000" stroke-width="1.2" stroke-linecap="butt"/>
<line x1="182.80" y1="1108.90" x2="196.80" y2="1108.90" stroke="#ff8000" stroke-width="1.2" stroke-linecap="butt"/>
<line x1="182.80" y1="1191.20" x2="196.80" y2="1191.20" stroke="#ff8000" stroke-width="1.2" stroke-linecap="butt"/>
<line x1="338.70" y1="1043.90" x2="338.70" y2="1062.10" stroke="#ff8000" stroke-width="1.2" stroke-linecap="butt"/>
<line x1="331.70" y1="1043.90" x2="345.70" y2="1043.90" stroke="#ff8000" stroke-width="1.2" stroke-linecap="butt"/>
<line x1="331.70" y1="1062.10" x2="345.70" y2="1062.10" stroke="#ff8000" stroke-width="1.2" stroke-linecap="butt"/>
<line x1="487.70" y1="1023.30" x2="487.70" y2="1033.10" stroke="#ff8000" stroke-width="1.2" stroke-linecap="butt"/>
<line x1="480.70" y1="1023.30" x2="494.70" y2="1023.30" stroke="#ff8000" stroke-width="1.2" stroke-linecap="butt"/>
<line x1="480.70" y1="1033.10" x2="494.70" y2="1033.10" stroke="#ff8000" stroke-width="1.2" stroke-linecap="butt"/>
<polyline points="189.80,1150.00 338.70,1053.00 487.70,1028.20" fill="none" stroke="#ff8000" stroke-width="4.2" stroke-linejoin="miter" stroke-miterlimit="3"/>
<line x1="105.40" y1="965.30" x2="564.00" y2="965.30" stroke="#000" stroke-width="3" stroke-linecap="butt"/>
<line x1="562.50" y1="963.80" x2="562.50" y2="1335.70" stroke="#000" stroke-width="3" stroke-linecap="butt"/>
<line x1="115.40" y1="963.80" x2="115.40" y2="1335.70" stroke="#000" stroke-width="2.9" stroke-linecap="butt"/>
<line x1="106.00" y1="1334.20" x2="564.00" y2="1334.20" stroke="#000" stroke-width="3" stroke-linecap="butt"/>
<line x1="107.00" y1="1056.60" x2="115.40" y2="1056.60" stroke="#000" stroke-width="2.9" stroke-linecap="butt"/>
<line x1="107.00" y1="1150.20" x2="115.40" y2="1150.20" stroke="#000" stroke-width="2.9" stroke-linecap="butt"/>
<line x1="107.00" y1="1241.50" x2="115.40" y2="1241.50" stroke="#000" stroke-width="2.9" stroke-linecap="butt"/>
<line x1="189.80" y1="1334.20" x2="189.80" y2="1337.70" stroke="#000" stroke-width="2.2" stroke-linecap="butt"/>
<line x1="338.70" y1="1334.20" x2="338.70" y2="1337.70" stroke="#000" stroke-width="2.2" stroke-linecap="butt"/>
<line x1="487.70" y1="1334.20" x2="487.70" y2="1337.70" stroke="#000" stroke-width="2.2" stroke-linecap="butt"/>
<text transform="translate(77.14,1075.00)" font-size="31.50" font-weight="normal" font-style="normal" fill="#000" stroke="#000" stroke-width="0.35">17</text>
<text transform="translate(74.24,1165.90)" font-size="31.50" font-weight="normal" font-style="normal" fill="#000" stroke="#000" stroke-width="0.35">16</text>
<text transform="translate(75.44,1259.20)" font-size="31.50" font-weight="normal" font-style="normal" fill="#000" stroke="#000" stroke-width="0.35">15</text>
<text transform="translate(73.64,1350.40)" font-size="31.50" font-weight="normal" font-style="normal" fill="#000" stroke="#000" stroke-width="0.35">14</text>
<text transform="translate(310.97,1283.43)" font-size="41.5" letter-spacing="1.9" fill="#000" stroke="#000" stroke-width="0.3" stroke-linejoin="round">***</text>
<text transform="translate(471.17,1270.43)" font-size="41.5" letter-spacing="1.9" fill="#000" stroke="#000" stroke-width="0.3" stroke-linejoin="round">**</text>
<text transform="translate(60.00,1338.60) rotate(-90) scale(1,1.0404)" x="-0.08" font-size="30.76" fill="#000" stroke="#000" stroke-width="0.35">Appendicular Length (mm)</text>
<line x1="190.20" y1="1536.40" x2="190.20" y2="1578.90" stroke="#000000" stroke-width="2.6" stroke-linecap="butt"/>
<line x1="184.20" y1="1536.40" x2="196.20" y2="1536.40" stroke="#000000" stroke-width="2.6" stroke-linecap="butt"/>
<line x1="184.20" y1="1578.90" x2="196.20" y2="1578.90" stroke="#000000" stroke-width="2.6" stroke-linecap="butt"/>
<line x1="339.30" y1="1516.40" x2="339.30" y2="1568.50" stroke="#000000" stroke-width="2.6" stroke-linecap="butt"/>
<line x1="333.30" y1="1516.40" x2="345.30" y2="1516.40" stroke="#000000" stroke-width="2.6" stroke-linecap="butt"/>
<line x1="333.30" y1="1568.50" x2="345.30" y2="1568.50" stroke="#000000" stroke-width="2.6" stroke-linecap="butt"/>
<line x1="489.30" y1="1369.30" x2="489.30" y2="1578.70" stroke="#000000" stroke-width="2.6" stroke-linecap="butt"/>
<line x1="483.30" y1="1369.30" x2="495.30" y2="1369.30" stroke="#000000" stroke-width="2.6" stroke-linecap="butt"/>
<line x1="483.30" y1="1578.70" x2="495.30" y2="1578.70" stroke="#000000" stroke-width="2.6" stroke-linecap="butt"/>
<polyline points="190.20,1557.70 339.30,1542.50 489.30,1474.00" fill="none" stroke="#000000" stroke-width="2.7" stroke-linejoin="miter" stroke-miterlimit="3"/>
<rect x="184.20" y="1551.70" width="12.00" height="12.00" fill="#000000"/>
<rect x="333.30" y="1536.50" width="12.00" height="12.00" fill="#000000"/>
<rect x="483.30" y="1468.00" width="12.00" height="12.00" fill="#000000"/>
<line x1="190.20" y1="1552.50" x2="190.20" y2="1643.70" stroke="#ff0000" stroke-width="2.6" stroke-linecap="butt"/>
<line x1="184.20" y1="1552.50" x2="196.20" y2="1552.50" stroke="#ff0000" stroke-width="2.6" stroke-linecap="butt"/>
<line x1="184.20" y1="1643.70" x2="196.20" y2="1643.70" stroke="#ff0000" stroke-width="2.6" stroke-linecap="butt"/>
<line x1="339.30" y1="1553.80" x2="339.30" y2="1635.00" stroke="#ff0000" stroke-width="2.6" stroke-linecap="butt"/>
<line x1="333.30" y1="1553.80" x2="345.30" y2="1553.80" stroke="#ff0000" stroke-width="2.6" stroke-linecap="butt"/>
<line x1="333.30" y1="1635.00" x2="345.30" y2="1635.00" stroke="#ff0000" stroke-width="2.6" stroke-linecap="butt"/>
<line x1="489.30" y1="1578.70" x2="489.30" y2="1646.30" stroke="#ff0000" stroke-width="2.6" stroke-linecap="butt"/>
<line x1="483.30" y1="1578.70" x2="495.30" y2="1578.70" stroke="#ff0000" stroke-width="2.6" stroke-linecap="butt"/>
<line x1="483.30" y1="1646.30" x2="495.30" y2="1646.30" stroke="#ff0000" stroke-width="2.6" stroke-linecap="butt"/>
<polyline points="190.20,1598.10 339.30,1594.40 489.30,1612.50" fill="none" stroke="#ff0000" stroke-width="2.7" stroke-linejoin="miter" stroke-miterlimit="3"/>
<circle cx="190.20" cy="1598.10" r="6.00" fill="#ff0000"/>
<circle cx="339.30" cy="1594.40" r="6.00" fill="#ff0000"/>
<circle cx="489.30" cy="1612.50" r="6.00" fill="#ff0000"/>
<line x1="190.20" y1="1589.40" x2="190.20" y2="1664.00" stroke="#0000ff" stroke-width="2.6" stroke-linecap="butt"/>
<line x1="184.20" y1="1589.40" x2="196.20" y2="1589.40" stroke="#0000ff" stroke-width="2.6" stroke-linecap="butt"/>
<line x1="184.20" y1="1664.00" x2="196.20" y2="1664.00" stroke="#0000ff" stroke-width="2.6" stroke-linecap="butt"/>
<line x1="339.30" y1="1525.00" x2="339.30" y2="1699.00" stroke="#0000ff" stroke-width="2.6" stroke-linecap="butt"/>
<line x1="333.30" y1="1525.00" x2="345.30" y2="1525.00" stroke="#0000ff" stroke-width="2.6" stroke-linecap="butt"/>
<line x1="333.30" y1="1699.00" x2="345.30" y2="1699.00" stroke="#0000ff" stroke-width="2.6" stroke-linecap="butt"/>
<line x1="489.30" y1="1618.50" x2="489.30" y2="1704.60" stroke="#0000ff" stroke-width="2.6" stroke-linecap="butt"/>
<line x1="483.30" y1="1618.50" x2="495.30" y2="1618.50" stroke="#0000ff" stroke-width="2.6" stroke-linecap="butt"/>
<line x1="483.30" y1="1704.60" x2="495.30" y2="1704.60" stroke="#0000ff" stroke-width="2.6" stroke-linecap="butt"/>
<polyline points="190.20,1626.70 339.30,1612.00 489.30,1661.50" fill="none" stroke="#0000ff" stroke-width="2.7" stroke-linejoin="miter" stroke-miterlimit="3"/>
<polygon points="184.20,1621.60 196.20,1621.60 190.20,1631.80" fill="#0000ff"/>
<polygon points="333.30,1606.90 345.30,1606.90 339.30,1617.10" fill="#0000ff"/>
<polygon points="483.30,1656.40 495.30,1656.40 489.30,1666.60" fill="#0000ff"/>
<line x1="114.10" y1="1355.10" x2="565.80" y2="1355.10" stroke="#000" stroke-width="2.8" stroke-linecap="butt"/>
<line x1="564.40" y1="1353.70" x2="564.40" y2="1778.70" stroke="#000" stroke-width="2.8" stroke-linecap="butt"/>
<line x1="115.50" y1="1353.70" x2="115.50" y2="1778.70" stroke="#000" stroke-width="2.8" stroke-linecap="butt"/>
<line x1="115.50" y1="1771.20" x2="564.40" y2="1771.20" stroke="#000" stroke-width="2.8" stroke-linecap="butt"/>
<line x1="107.30" y1="1370.80" x2="115.50" y2="1370.80" stroke="#000" stroke-width="2.8" stroke-linecap="butt"/>
<line x1="107.30" y1="1530.50" x2="115.50" y2="1530.50" stroke="#000" stroke-width="2.8" stroke-linecap="butt"/>
<line x1="107.30" y1="1690.90" x2="115.50" y2="1690.90" stroke="#000" stroke-width="2.8" stroke-linecap="butt"/>
<line x1="190.20" y1="1771.20" x2="190.20" y2="1778.70" stroke="#000" stroke-width="2.8" stroke-linecap="butt"/>
<line x1="264.80" y1="1771.20" x2="264.80" y2="1778.70" stroke="#000" stroke-width="2.8" stroke-linecap="butt"/>
<line x1="339.30" y1="1771.20" x2="339.30" y2="1778.70" stroke="#000" stroke-width="2.8" stroke-linecap="butt"/>
<line x1="414.40" y1="1771.20" x2="414.40" y2="1778.70" stroke="#000" stroke-width="2.8" stroke-linecap="butt"/>
<line x1="489.30" y1="1771.20" x2="489.30" y2="1778.70" stroke="#000" stroke-width="2.8" stroke-linecap="butt"/>
<text transform="translate(86.59,1382.90)" font-size="31.50" font-weight="normal" font-style="normal" fill="#000" stroke="#000" stroke-width="0.1">4</text>
<text transform="translate(89.52,1546.00)" font-size="31.50" font-weight="normal" font-style="normal" fill="#000" stroke="#000" stroke-width="0.1">3</text>
<text transform="translate(86.83,1704.50)" font-size="31.50" font-weight="normal" font-style="normal" fill="#000" stroke="#000" stroke-width="0.1">2</text>
<text transform="translate(176.76,1816.20)" font-size="31.50" font-weight="normal" font-style="normal" fill="#000" stroke="#000" stroke-width="0.1">8</text>
<text transform="translate(319.34,1816.80)" font-size="31.50" font-weight="normal" font-style="normal" fill="#000" stroke="#000" stroke-width="0.1">10</text>
<text transform="translate(470.84,1814.60)" font-size="31.50" font-weight="normal" font-style="normal" fill="#000" stroke="#000" stroke-width="0.1">12</text>
<text transform="translate(240.12,1838.00) scale(1,1.0493)" font-size="30.50" font-weight="normal" font-style="normal" fill="#000" stroke="#000" stroke-width="0.1">Age (weeks)</text>
<text transform="translate(508.27,1636.23)" font-size="41.5" letter-spacing="1.9" fill="#000" stroke="#000" stroke-width="0.3" stroke-linejoin="round">*</text>
<text transform="translate(510.37,1681.93)" font-size="41.5" letter-spacing="1.9" fill="#000" stroke="#000" stroke-width="0.3" stroke-linejoin="round">**</text>
<text transform="translate(61.40,1712.70) rotate(-90) scale(1,1.0500)" x="-2.55" font-size="30.86" fill="#000" stroke="#000" stroke-width="0.1">Kyphotic Index</text>
</svg></body></html>
